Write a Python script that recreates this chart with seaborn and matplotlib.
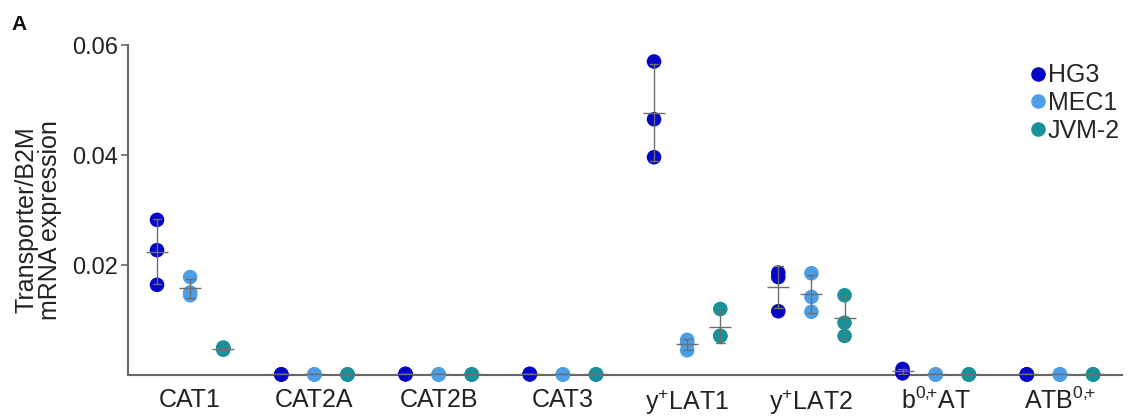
import matplotlib
matplotlib.use("Agg")
import matplotlib.pyplot as plt
import seaborn as sns
import pandas as pd
from matplotlib.lines import Line2D

categories = ["CAT1", "CAT2A", "CAT2B", "CAT3", "y$^{\\mathregular{+}}$LAT1",
              "y$^{\\mathregular{+}}$LAT2", "b$^{\\mathregular{0{,}\\!{+}}}$AT",
              "ATB$^{\\mathregular{0{,}\\!{+}}}$"]
cell_lines = ["HG3", "MEC1", "JVM-2"]

hg3 = [[0.0282, 0.0227, 0.0164], [0.0001, 0.0001, 0.0001], [0.0002, 0.0001, 0.0002],
       [0.0002, 0.0001, 0.0002], [0.0570, 0.0465, 0.0396], [0.0186, 0.0178, 0.0116],
       [0.0011, 0.0006, 0.0003], [0.0001, 0.0001, 0.0001]]
mec1 = [[0.0178, 0.0150, 0.0145], [0.0001, 0.0001, 0.0001], [0.0001, 0.0001, 0.0001],
        [0.0001, 0.0001, 0.0001], [0.0064, 0.0058, 0.0045], [0.0185, 0.0142, 0.0115],
        [0.0001, 0.0001, 0.0001], [0.0001, 0.0001, 0.0001]]
jvm2 = [[0.0050, 0.0048, 0.0046], [0.0001, 0.0001, 0.0001], [0.0001, 0.0001, 0.0001],
        [0.0001, 0.0001, 0.0001], [0.0120, 0.0071, 0.0071], [0.0145, 0.0095, 0.0071],
        [0.0001, 0.0001, 0.0001], [0.0001, 0.0001, 0.0001]]

colors = ["#0505C8", "#4C9FE6", "#17929A"]

rows = []
for line, series in zip(cell_lines, [hg3, mec1, jvm2]):
    for cat, vals in zip(categories, series):
        for v in vals:
            rows.append({"Transporter": cat, "Line": line, "Value": v})
df = pd.DataFrame(rows)

sns.set_style("ticks")
plt.rcParams["font.family"] = ["Liberation Sans", "DejaVu Sans"]
plt.rcParams["mathtext.fontset"] = "custom"
plt.rcParams["mathtext.rm"] = "Liberation Sans"

fig = plt.figure(figsize=(11.38, 4.19), dpi=100)
ax = fig.add_axes([0.1125, 0.105, 0.8735, 0.7876])

sns.stripplot(data=df, x="Transporter", y="Value", hue="Line", order=categories,
              hue_order=cell_lines, palette=colors, dodge=True, jitter=False,
              size=10.5, linewidth=0, ax=ax, legend=False, clip_on=False, zorder=3)

sns.pointplot(data=df, x="Transporter", y="Value", hue="Line", order=categories,
              hue_order=cell_lines, palette=["#6e6e6e"] * 3, dodge=0.5333,
              errorbar="sd", capsize=0.07, markers="_", markersize=16,
              markeredgewidth=1.0, linestyle="none", err_kws={"linewidth": 1.0},
              ax=ax, legend=False, zorder=4)

ax.set_ylim(0, 0.06)
ax.set_xlim(-0.5, 7.5)
ax.set_yticks([0.02, 0.04, 0.06])
ax.set_yticklabels(["0.02", "0.04", "0.06"])
ax.set_xlabel("")
ax.set_ylabel("Transporter/B2M\nmRNA expression", fontsize=18, color="#222222",
              linespacing=1.0)
ax.yaxis.set_label_coords(-0.066, 0.47)
ax.tick_params(axis="y", labelsize=17, length=5, width=1.2, color="#666666",
               labelcolor="#222222", pad=2)
ax.tick_params(axis="x", labelsize=18, length=0, labelcolor="#222222", pad=9)
for s in ["top", "right"]:
    ax.spines[s].set_visible(False)
for s in ["left", "bottom"]:
    ax.spines[s].set_color("#666666")
    ax.spines[s].set_linewidth(1.5)

handles = [Line2D([0], [0], marker="o", linestyle="none", markersize=10.5,
                  markerfacecolor=c, markeredgewidth=0) for c in colors]
ax.legend(handles, cell_lines, loc="upper right", bbox_to_anchor=(1.008, 0.975),
          frameon=False, fontsize=18, handletextpad=0.0, handlelength=0.8,
          labelspacing=0.15, borderaxespad=0)

fig.text(0.010, 0.928, "A", fontsize=15, fontweight="bold", color="#111111")

fig.savefig("out.png", dpi=100)
